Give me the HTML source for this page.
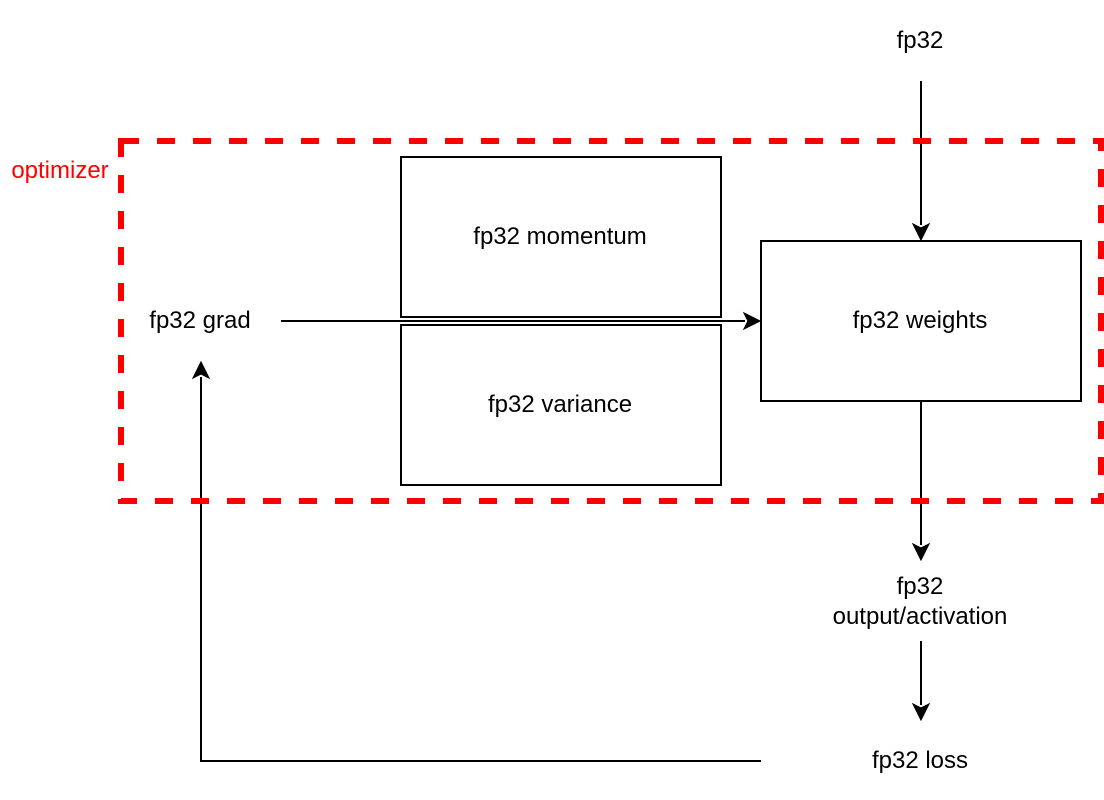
<!DOCTYPE html>
<html><head><meta charset="utf-8"><style>
html,body{margin:0;padding:0;background:#fff;width:1104px;height:800px;overflow:hidden}
svg{display:block}
text{font-family:"Liberation Sans",Arial,sans-serif;font-size:24px;fill:#000;text-anchor:middle}
</style></head><body>
<svg width="1104" height="800" viewBox="0 0 1104 800" xmlns="http://www.w3.org/2000/svg">
<rect width="1104" height="800" fill="#fff"/>
<rect x="401" y="157" width="320" height="160" fill="#fff" stroke="#000" stroke-width="2" shape-rendering="crispEdges"/>
<rect x="401" y="325" width="320" height="160" fill="#fff" stroke="#000" stroke-width="2" shape-rendering="crispEdges"/>
<rect x="761" y="241" width="320" height="160" fill="#fff" stroke="#000" stroke-width="2" shape-rendering="crispEdges"/>
<g fill="none" stroke="#000" stroke-width="2" shape-rendering="crispEdges">
<path d="M921 81V225"/>
<path d="M921 401V545"/>
<path d="M921 641V705"/>
<path d="M281 321H745"/>
<path d="M761 761H201V377"/>
</g>
<g fill="#000" stroke="#000" stroke-width="2">
<path d="M921 239L914 225L921 228.500L928 225Z"/>
<path d="M921 559L914 545L921 548.500L928 545Z"/>
<path d="M921 719L914 705L921 708.500L928 705Z"/>
<path d="M759 321L745 328L748.500 321L745 314Z"/>
<path d="M201 363L194 377L201 373.500L208 377Z"/>
</g>
<rect x="121" y="141" width="980" height="360" fill="none" stroke="#f00" stroke-width="6" stroke-dasharray="18 18" shape-rendering="crispEdges"/>
<text x="920" y="48">fp32</text>
<text x="560" y="244">fp32 momentum</text>
<text x="560" y="412">fp32 variance</text>
<text x="920" y="328">fp32 weights</text>
<text x="200" y="328">fp32 grad</text>
<text x="920" y="594">fp32</text>
<text x="920" y="624">output/activation</text>
<text x="920" y="768">fp32 loss</text>
<text x="60" y="178" style="fill:#f00">optimizer</text>
</svg>
</body></html>
